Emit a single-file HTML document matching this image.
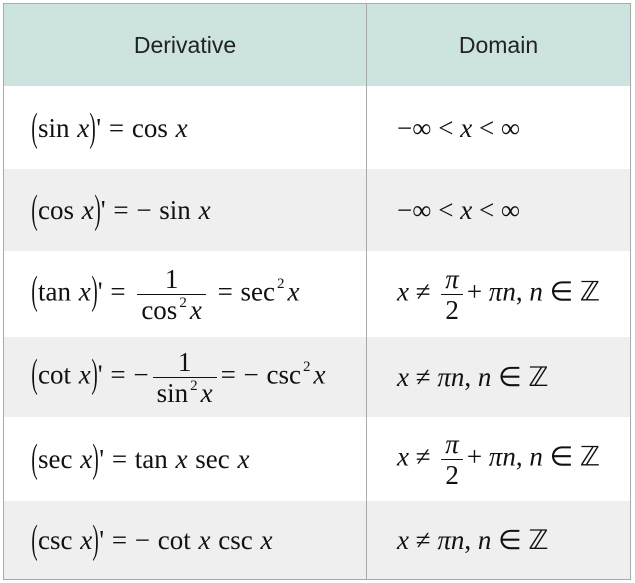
<!DOCTYPE html>
<html><head><meta charset="utf-8"><style>
body{margin:0;width:635px;height:583px;background:#fff;overflow:hidden}
#t{position:absolute;left:3px;top:3px;width:628px;height:577px;border:1px solid #a9a9a9;box-sizing:border-box}
.row{position:absolute;left:0;width:626px}
.cell{position:absolute;top:0;height:100%;display:flex;align-items:center}
.c1{left:0;width:362px;padding-left:27px;box-sizing:border-box}
.c2{left:363px;width:263px;padding-left:30px;box-sizing:border-box}
.div{position:absolute;left:362px;top:0;width:1px;height:100%;background:#a9a9a9}
.h{font-family:"Liberation Sans",sans-serif;font-size:23px;color:#222;justify-content:center;padding:0}
.m{font-family:"Liberation Serif",serif;font-size:27px;color:#111;white-space:pre;word-spacing:1px;line-height:30px}
.c2.m{word-spacing:0}
i{font-style:italic;font-family:"Liberation Serif",serif}
.p{display:inline-block;font-weight:100;transform:scale(.7,1.5);margin:0 -1px;position:relative;top:-1px}
.fr{display:inline-flex;flex-direction:column;align-items:center;vertical-align:middle;margin:0 4px}
.fr .n{line-height:30px}
.fr .d{line-height:30px;border-top:1px solid #111;padding:0 4px}
sup{font-size:15px;position:relative;top:-12px;vertical-align:baseline;padding:0 3px 0 2px;line-height:0}
</style></head><body>
<div id="t">
<div class="row" style="top:0;height:82px;background:#cde3e0">
<div class="cell c1 h">Derivative</div>
<div class="cell c2 h">Domain</div></div>
<div class="row" style="top:82px;height:83px">
<div class="cell c1 m"><span><span class="p">(</span>sin <i>x</i><span class="p">)</span>' = cos <i>x</i></span></div>
<div class="cell c2 m"><span>−∞ &lt; <i>x</i> &lt; ∞</span></div></div>
<div class="row" style="top:165px;height:82px;background:#efefef">
<div class="cell c1 m"><span><span class="p">(</span>cos <i>x</i><span class="p">)</span>' = − sin <i>x</i></span></div>
<div class="cell c2 m"><span>−∞ &lt; <i>x</i> &lt; ∞</span></div></div>
<div class="row" style="top:247px;height:86px">
<div class="cell c1 m"><span><span class="p">(</span>tan <i>x</i><span class="p">)</span>' = <span class="fr"><span class="n">1</span><span class="d">cos<sup>2</sup><i>x</i></span></span> = sec<sup>2</sup><i>x</i></span></div>
<div class="cell c2 m"><span><i>x</i> ≠ <span class="fr"><span class="n"><i>π</i></span><span class="d">2</span></span>+ <i>πn</i>, <i>n</i> ∈ ℤ</span></div></div>
<div class="row" style="top:333px;height:80px;background:#efefef">
<div class="cell c1 m"><span><span class="p">(</span>cot <i>x</i><span class="p">)</span>' = −<span class="fr"><span class="n">1</span><span class="d">sin<sup>2</sup><i>x</i></span></span>= − csc<sup>2</sup><i>x</i></span></div>
<div class="cell c2 m"><span><i>x</i> ≠ <i>πn</i>, <i>n</i> ∈ ℤ</span></div></div>
<div class="row" style="top:413px;height:84px">
<div class="cell c1 m"><span><span class="p">(</span>sec <i>x</i><span class="p">)</span>' = tan <i>x</i> sec <i>x</i></span></div>
<div class="cell c2 m"><span><i>x</i> ≠ <span class="fr"><span class="n"><i>π</i></span><span class="d">2</span></span>+ <i>πn</i>, <i>n</i> ∈ ℤ</span></div></div>
<div class="row" style="top:497px;height:78px;background:#efefef">
<div class="cell c1 m"><span><span class="p">(</span>csc <i>x</i><span class="p">)</span>' = − cot <i>x</i> csc <i>x</i></span></div>
<div class="cell c2 m"><span><i>x</i> ≠ <i>πn</i>, <i>n</i> ∈ ℤ</span></div></div>
<div class="div"></div>
</div>
</body></html>
